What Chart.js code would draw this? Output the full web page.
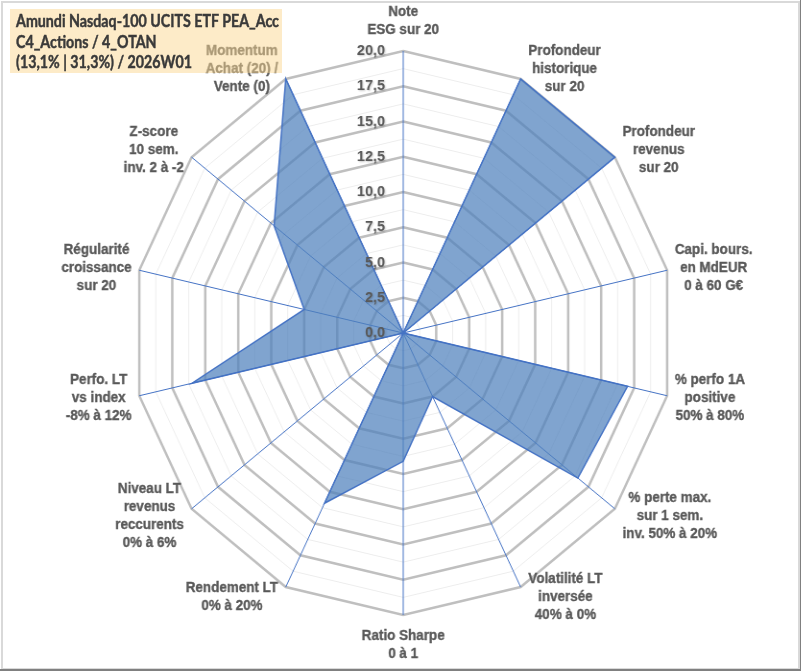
<!DOCTYPE html>
<html>
<head>
<meta charset="utf-8">
<script src="https://cdn.jsdelivr.net/npm/chart.js@4.4.1/dist/chart.umd.min.js"></script>
<style>
html,body{margin:0;padding:0;background:#fff;width:801px;height:671px;overflow:hidden;}
#wrap{position:relative;width:801px;height:671px;}
#c{position:absolute;left:0;top:0;transform:scaleX(0.96);transform-origin:0 0;}
#frame{position:absolute;left:1px;top:1px;width:795px;height:665px;border:2px solid #D9D9D9;pointer-events:none;}
#edge{position:absolute;left:0;top:0;width:800px;height:669px;border-right:1px solid #808080;border-bottom:2px solid #808080;pointer-events:none;}
#title{position:absolute;left:10px;top:9px;width:266px;height:62px;background:rgba(251,215,145,0.5);padding:2px 0 0 6px;white-space:nowrap;}
#title span{display:inline-block;transform-origin:0 0;font-family:Lato,"Open Sans",sans-serif;font-weight:700;font-size:16.5px;line-height:20.5px;color:#3A3A3A;-webkit-text-stroke:0.45px #3A3A3A;}
</style>
</head>
<body>
<div id="wrap">
<canvas id="c" width="834" height="671"></canvas>
<div id="frame"></div>
<div id="edge"></div>
<div id="title"><span></span></div>
</div>
<script>
// ---- data ----
const titleLines = ['Amundi Nasdaq-100 UCITS ETF PEA_Acc', 'C4_Actions / 4_OTAN', '(13,1% | 31,3%) / 2026W01'];
const categories = [
  ['Note', 'ESG sur 20'],
  ['Profondeur', 'historique', 'sur 20'],
  ['Profondeur', 'revenus', 'sur 20'],
  ['Capi. bours.', 'en MdEUR', '0 à 60 G€'],
  ['% perfo 1A', 'positive', '50% à 80%'],
  ['% perte max.', 'sur 1 sem.', 'inv. 50% à 20%'],
  ['Volatilité LT', 'inversée', '40% à 0%'],
  ['Ratio Sharpe', '0 à 1'],
  ['Rendement LT', '0% à 20%'],
  ['Niveau LT', 'revenus', 'reccurents', '0% à 6%'],
  ['Perfo. LT', 'vs index', '-8% à 12%'],
  ['Régularité', 'croissance', 'sur 20'],
  ['Z-score', '10 sem.', 'inv. 2 à -2'],
  ['Momentum', 'Achat (20) /', 'Vente (0)']
];
const scores = [0, 20, 20, 0, 17, 16.5, 5, 9.1, 13.4, 0, 16, 7.5, 12.2, 20];
const tickValues = [0, 2.5, 5, 7.5, 10, 12.5, 15, 17.5, 20];
const tickLabels = ['0,0', '2,5', '5,0', '7,5', '10,0', '12,5', '15,0', '17,5', '20,0'];
const axisMin = 0, axisMax = 20, gridStep = 1.25, majorStep = 2.5;

const tspan = document.querySelector('#title span');
tspan.innerHTML = titleLines.join('<br>');
const tw = tspan.getBoundingClientRect().width;
tspan.style.transform = 'scaleX(' + (263 / tw).toFixed(4) + ')';

const labelPlugin = {
  id: 'labels',
  afterDatasetsDraw(chart) {
    const s = chart.scales.r, ctx = chart.ctx;
    ctx.save();
    ctx.fillStyle = '#595959';
    ctx.strokeStyle = '#595959';
    ctx.lineWidth = 0.35;
    ctx.textBaseline = 'middle';
    // axis (point) labels
    ctx.font = 'bold 14px Arial, "Liberation Sans", sans-serif';
    ctx.textAlign = 'center';
    const lh = 18, R = s.drawingArea;
    categories.forEach((lines, i) => {
      const a = s.getIndexAngle(i);
      const p = s.getPointPosition(i, R);
      const sn = Math.sin(a), cs = Math.cos(a);
      const hw = Math.max(...lines.map(t => ctx.measureText(t).width)) / 2;
      const hh = lines.length * lh / 2;
      let x, y;
      if (Math.abs(sn) < 0.05) { x = p.x; y = p.y - Math.sign(cs) * (hh + 12); }
      else { x = p.x + Math.sign(sn) * (hw + 8); y = p.y - cs * 11; }
      lines.forEach((t, k) => {
        const ty = y - hh + lh / 2 + k * lh;
        ctx.fillText(t, x, ty);
        ctx.strokeText(t, x, ty);
      });
    });
    // value tick labels, left of the first spoke
    ctx.font = 'bold 15px Arial, "Liberation Sans", sans-serif';
    ctx.textAlign = 'right';
    ctx.shadowColor = 'rgba(0,0,0,0.22)';
    ctx.shadowBlur = 2;
    ctx.shadowOffsetX = 1;
    ctx.shadowOffsetY = 1;
    tickValues.forEach((v, k) => {
      const d = s.getDistanceFromCenterForValue(v);
      ctx.fillText(tickLabels[k], s.xCenter - 19, s.yCenter - d);
    });
    ctx.restore();
  }
};

const isMajor = v => Math.abs(v / majorStep - Math.round(v / majorStep)) < 1e-6;

new Chart(document.getElementById('c'), {
  type: 'radar',
  data: {
    labels: categories,
    datasets: [{
      data: scores,
      backgroundColor: 'rgba(79,129,189,0.72)',
      borderColor: '#4472C4',
      borderWidth: 1.5,
      pointRadius: 0,
      pointHoverRadius: 0,
      fill: true
    }]
  },
  options: {
    responsive: false,
    animation: false,
    events: [],
    layout: { padding: { left: 138, right: 132, top: 51, bottom: 56 } },
    plugins: { legend: { display: false }, tooltip: { enabled: false } },
    elements: { line: { tension: 0 } },
    scales: {
      r: {
        min: axisMin,
        max: axisMax,
        beginAtZero: true,
        ticks: { display: false, stepSize: gridStep },
        pointLabels: { display: false },
        angleLines: { display: true, color: '#4472C4', lineWidth: 1 },
        grid: {
          circular: false,
          color: c => (c.tick && isMajor(c.tick.value)) ? '#BFBFBF' : '#EDEDED',
          lineWidth: c => (c.tick && isMajor(c.tick.value)) ? 2.5 : 1
        }
      }
    }
  },
  plugins: [labelPlugin]
});
</script>
</body>
</html>
